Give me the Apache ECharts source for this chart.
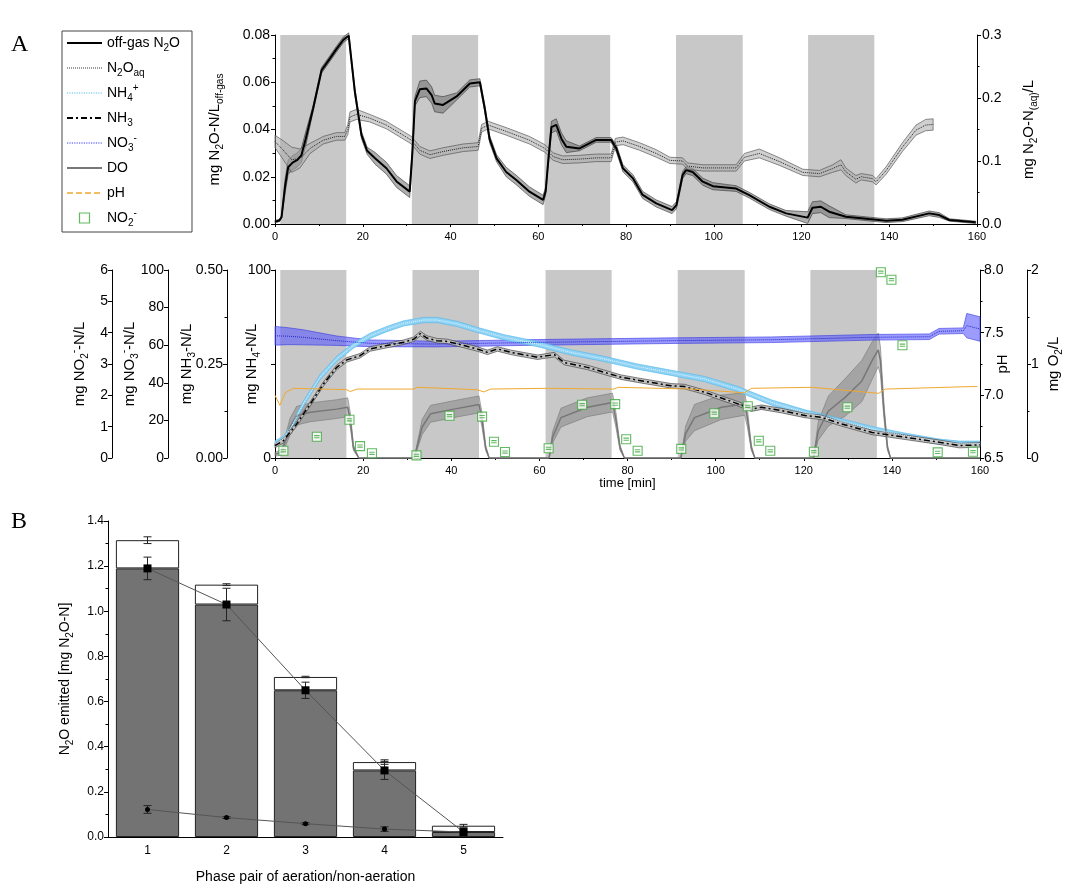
<!DOCTYPE html>
<html>
<head>
<meta charset="utf-8">
<script src="https://cdn.jsdelivr.net/npm/echarts@6/dist/echarts.min.js"></script>
<style>
html, body { margin: 0; padding: 0; background: #fff; }
#main { width: 1084px; height: 886px; }
</style>
</head>
<body>
<div id="main"></div>
<script>
// aeration phases (min)
var phaseStart = [1.2, 31.2, 61.4, 91.4, 121.5];
var phaseEnd = [16.2, 46.3, 76.4, 106.6, 136.6];

// top panel: off-gas N2O (left axis) and dissolved N2O (right axis)
var tOff = [0, 1, 1.5, 2.3, 3, 4, 5, 6, 7, 8.7, 10.6, 12.5, 14, 15.6, 16.8, 18.2, 19.7, 21, 22.8, 25.4, 27.7, 30.7, 31.3, 31.9, 33, 34.5, 35.7, 36.4, 38.3, 41.4, 44.4, 46.7, 47.8, 48.9, 50.5, 52.7, 55, 58, 61.1, 61.7, 62.2, 63, 64.1, 65.3, 66.4, 69.4, 73.2, 76.6, 77.8, 79.3, 81.6, 83.8, 86.9, 90.5, 91.5, 92.9, 93.7, 95.2, 97.5, 99.8, 105.1, 108.1, 112.7, 116.5, 121.4, 122.5, 124.4, 126.3, 130.1, 135.4, 139.3, 143, 149.1, 151.4, 153.7, 159.7];
var offgas = [0.001, 0.0015, 0.003, 0.016, 0.024, 0.026, 0.027, 0.029, 0.036, 0.049, 0.065, 0.070, 0.074, 0.078, 0.0797, 0.056, 0.0377, 0.031, 0.0278, 0.0236, 0.018, 0.0137, 0.030, 0.052, 0.057, 0.0574, 0.0546, 0.051, 0.0504, 0.054, 0.0595, 0.060, 0.049, 0.036, 0.0278, 0.022, 0.0186, 0.0137, 0.0102, 0.014, 0.025, 0.041, 0.042, 0.036, 0.0327, 0.032, 0.0356, 0.0356, 0.032, 0.0236, 0.0193, 0.0123, 0.0087, 0.0059, 0.008, 0.0207, 0.0228, 0.022, 0.0179, 0.016, 0.015, 0.0122, 0.0073, 0.0045, 0.0027, 0.0069, 0.0073, 0.0052, 0.0031, 0.0021, 0.0014, 0.0018, 0.0045, 0.0038, 0.0017, 0.0007];
var offgasSd = [0.0005, 0.0005, 0.0005, 0.003, 0.003, 0.003, 0.003, 0.003, 0.003, 0.0012, 0.0012, 0.0012, 0.0012, 0.0012, 0.0012, 0.0015, 0.0015, 0.0015, 0.0025, 0.0025, 0.0025, 0.0025, 0.002, 0.002, 0.0035, 0.0035, 0.0035, 0.0035, 0.0035, 0.0015, 0.0015, 0.0015, 0.0015, 0.0015, 0.0015, 0.002, 0.002, 0.002, 0.002, 0.0015, 0.0015, 0.0025, 0.0025, 0.0025, 0.0025, 0.001, 0.001, 0.001, 0.0015, 0.0015, 0.0015, 0.0015, 0.0015, 0.0015, 0.0015, 0.0015, 0.0015, 0.0015, 0.0015, 0.0015, 0.0012, 0.0012, 0.0012, 0.0012, 0.0025, 0.0025, 0.0025, 0.0025, 0.0008, 0.0008, 0.0008, 0.0008, 0.001, 0.001, 0.0005, 0.0005];

var tAq = [0, 1.9, 3.8, 5.7, 8, 11, 14, 15.9, 16.6, 17.1, 18.6, 21.6, 25.4, 29.2, 31.1, 33, 35.3, 38.3, 42.9, 46.3, 47.1, 48.6, 52.7, 58, 61.5, 63.4, 65.6, 69.4, 73.2, 76.6, 77.6, 79.3, 83.1, 86.9, 90, 92.9, 94, 97.5, 105.1, 107, 110.4, 115, 120.3, 124.1, 127.1, 129, 130.1, 132.4, 133.6, 136.2, 137, 139.3, 143, 146.1, 148.3, 150];
var n2oAq = [0.131, 0.117, 0.102, 0.104, 0.12, 0.133, 0.139, 0.139, 0.15, 0.17, 0.174, 0.168, 0.157, 0.141, 0.133, 0.117, 0.11, 0.115, 0.121, 0.123, 0.152, 0.157, 0.147, 0.133, 0.12, 0.107, 0.102, 0.103, 0.105, 0.105, 0.13, 0.132, 0.123, 0.112, 0.101, 0.1, 0.092, 0.089, 0.089, 0.106, 0.112, 0.099, 0.082, 0.08, 0.088, 0.094, 0.083, 0.071, 0.075, 0.072, 0.067, 0.085, 0.122, 0.149, 0.157, 0.158];
var n2oAqSd = [0.01, 0.015, 0.02, 0.015, 0.008, 0.006, 0.006, 0.006, 0.008, 0.008, 0.008, 0.006, 0.006, 0.006, 0.006, 0.006, 0.006, 0.006, 0.006, 0.006, 0.006, 0.006, 0.006, 0.006, 0.006, 0.006, 0.006, 0.006, 0.006, 0.006, 0.006, 0.006, 0.006, 0.006, 0.005, 0.005, 0.005, 0.005, 0.005, 0.006, 0.007, 0.006, 0.005, 0.005, 0.006, 0.008, 0.006, 0.006, 0.005, 0.005, 0.005, 0.006, 0.007, 0.008, 0.009, 0.009];

// bottom panel
var tNh4 = [0, 1.9, 3.4, 6.4, 10.2, 14, 17.8, 21.6, 25.4, 29.2, 33.8, 36.8, 41.4, 45.9, 52, 59.6, 67.1, 74.7, 82.3, 89.9, 97.5, 105.1, 112.7, 120.3, 127.9, 135.5, 143.1, 150.7, 155.3, 160];
var nh4 = [7.8, 10.1, 15.4, 28.7, 42.9, 52.7, 59.8, 65, 68.6, 71.6, 73.4, 73.4, 71.3, 68.1, 64.2, 60.6, 56.2, 52.7, 48.6, 45.3, 42, 36.6, 29.5, 24.2, 19.8, 15.4, 11.8, 8.7, 7.6, 7.6];
var nh4Sd = 1.4;

var tNh3 = [0, 1.9, 4.9, 8, 11, 14, 16.3, 19.3, 21.6, 25.4, 29.2, 31.5, 33, 34.5, 36.8, 39.1, 42.9, 45.9, 48.2, 50.5, 53.5, 59.6, 63.4, 65.6, 70.9, 74.7, 78.5, 82.3, 89.9, 92.9, 97.5, 105.1, 108.1, 110.4, 115, 120.3, 124.1, 127.9, 135.5, 143.1, 150.7, 155.3, 160];
var nh3 = [0.033, 0.046, 0.09, 0.144, 0.197, 0.241, 0.261, 0.272, 0.29, 0.299, 0.308, 0.316, 0.331, 0.319, 0.312, 0.31, 0.299, 0.29, 0.281, 0.29, 0.281, 0.268, 0.275, 0.254, 0.241, 0.228, 0.215, 0.207, 0.192, 0.19, 0.175, 0.144, 0.13, 0.135, 0.126, 0.113, 0.108, 0.093, 0.068, 0.055, 0.042, 0.033, 0.035];
var nh3Sd = 0.006;

var tNo3 = [0, 3, 6.4, 14, 21.6, 36.8, 59.6, 89.9, 112.7, 135.5, 148.5, 150.7, 156.2, 157, 160];
var no3 = [65, 64.8, 64.2, 62.4, 61, 60.6, 61.5, 62.4, 62.9, 64.2, 64.5, 67.4, 67.7, 70.4, 68.6];
var no3Sd = [5, 4.5, 4, 2.5, 1.8, 1.5, 1.5, 1.5, 1.5, 1.5, 1.5, 1.5, 1.5, 6.5, 6.5];

var tPh = [0, 1.1, 2.3, 4.2, 16.3, 17.1, 18.6, 31.5, 32.2, 45.9, 47.4, 48.9, 61.8, 77, 77.8, 94.5, 106.6, 108.1, 121.8, 137, 138.5, 158.2, 158.5, 159.4];
var ph = [7.0, 6.92, 7.02, 7.056, 7.045, 7.03, 7.05, 7.05, 7.064, 7.045, 7.027, 7.05, 7.056, 7.05, 7.064, 7.05, 7.02, 7.056, 7.064, 7.016, 7.05, 7.07, 7.085, 7.07];

var tDo = [0, 1.5, 2.5, 3.4, 4.9, 8, 14, 16.5, 17.1, 17.8, 19, 31.6, 32.2, 33.4, 35.3, 40.6, 46.3, 47, 47.8, 48.6, 62.2, 63, 64.9, 70.9, 76.6, 77.4, 78.3, 79.3, 92.1, 93.2, 95.2, 101.3, 106.6, 107.2, 108.1, 108.9, 122.2, 123.3, 125.6, 129.4, 133.2, 135.5, 136.9, 137.4, 138.2, 139, 139.7, 160];
var dO2 = [0.04, 0.06, 0.2, 0.33, 0.45, 0.486, 0.52, 0.54, 0.4, 0.11, 0, 0, 0.11, 0.33, 0.47, 0.52, 0.57, 0.4, 0.11, 0, 0, 0.22, 0.43, 0.54, 0.59, 0.4, 0.11, 0, 0, 0.26, 0.43, 0.54, 0.575, 0.43, 0.11, 0, 0, 0.29, 0.5, 0.645, 0.82, 1.035, 1.15, 1.035, 0.5, 0.11, 0, 0];
var dO2Sd = [0.02, 0.03, 0.06, 0.09, 0.1, 0.1, 0.1, 0.1, 0.08, 0.03, 0, 0, 0.03, 0.08, 0.09, 0.09, 0.09, 0.08, 0.03, 0, 0, 0.06, 0.1, 0.1, 0.1, 0.08, 0.03, 0, 0, 0.08, 0.14, 0.13, 0.12, 0.1, 0.03, 0, 0, 0.1, 0.16, 0.2, 0.22, 0.2, 0.18, 0.15, 0.08, 0.03, 0, 0];

var tNo2 = [1.9, 9.5, 16.9, 19.3, 22, 32.1, 39.6, 47, 49.7, 52.2, 62.1, 69.7, 77.2, 79.7, 82.3, 92.2, 99.7, 107.3, 109.8, 112.4, 122.3, 129.9, 137.5, 139.9, 142.4, 150.4, 158.4];
var no2 = [0.23, 0.68, 1.22, 0.38, 0.15, 0.085, 1.35, 1.32, 0.52, 0.19, 0.31, 1.70, 1.72, 0.6, 0.23, 0.29, 1.43, 1.65, 0.55, 0.23, 0.2, 1.62, 5.93, 5.69, 3.6, 0.18, 0.2];

// panel B
var pairs = ['1', '2', '3', '4', '5'];
var totalN2O = [1.315, 1.118, 0.709, 0.332, 0.050];
var totalErr = [0.015, 0.004, 0.003, 0.01, 0.006];
var aerN2O = [1.19, 1.03, 0.65, 0.295, 0.022];
var aerErr = [0.05, 0.072, 0.036, 0.04, 0.018];
var nonAerN2O = [0.122, 0.086, 0.059, 0.035, 0.022];
var nonAerErr = [0.017, 0.004, 0.004, 0.01, 0.005];

var FONT = 'Liberation Sans';
var dom = document.getElementById('main');
var myChart = echarts.init(dom);

function rich(fs) {
    var sub = Math.round(fs * 0.68);
    return {
        s: { fontSize: sub, lineHeight: sub, verticalAlign: 'bottom', fontFamily: FONT, color: '#000' },
        p: { fontSize: sub, lineHeight: sub, verticalAlign: 'top', fontFamily: FONT, color: '#000' }
    };
}

function nameStyle(fs) {
    return { fontSize: fs, lineHeight: fs + 6, fontFamily: FONT, color: '#000', rich: rich(fs) };
}

function yAxis(grid, o) {
    var ax = {
        type: 'value', gridIndex: grid,
        axisLine: { show: true, lineStyle: { color: '#000', width: 1 } },
        axisTick: { show: true, length: 4, lineStyle: { color: '#000' } },
        minorTick: { show: false, splitNumber: 2, length: 2.5, lineStyle: { color: '#000' } },
        splitLine: { show: false },
        axisLabel: { color: '#000', fontFamily: FONT, fontSize: 14, margin: 4 },
        nameLocation: 'middle', nameRotate: 90, nameMoveOverlap: false,
        nameTextStyle: nameStyle(15)
    };
    for (var k in o) ax[k] = o[k];
    return ax;
}

function xTime(grid, o) {
    var ax = {
        type: 'value', gridIndex: grid, min: 0, max: 160, interval: 20,
        axisLine: { lineStyle: { color: '#000' } },
        axisTick: { length: 3, lineStyle: { color: '#000' } },
        minorTick: { show: true, splitNumber: 2, length: 2, lineStyle: { color: '#000' } },
        splitLine: { show: false },
        axisLabel: { color: '#000', fontFamily: FONT, fontSize: 11, margin: 7 }
    };
    for (var k in o) ax[k] = o[k];
    return ax;
}

function band(name, ts, mid, sd, xi, yi, fill, stroke, z) {
    return {
        type: 'custom', name: name, xAxisIndex: xi, yAxisIndex: yi, z: z, silent: true,
        encode: { x: 0, y: [1, 2] },
        data: ts.map(function (t, i) {
            var s = Array.isArray(sd) ? sd[i] : sd;
            return [t, mid[i] - s, mid[i] + s];
        }),
        renderItem: function (params, api) {
            if (params.dataIndexInside !== 0) return;
            var up = [], lo = [];
            for (var i = 0; i < params.dataInsideLength; i++) {
                up.push(api.coord([api.value(0, i), api.value(2, i)]));
                lo.push(api.coord([api.value(0, i), api.value(1, i)]));
            }
            return {
                type: 'polygon',
                shape: { points: up.concat(lo.reverse()) },
                style: { fill: fill, stroke: stroke, lineWidth: 0.6 }
            };
        }
    };
}

function phases(xi, yi) {
    return {
        type: 'custom', name: 'aeration', xAxisIndex: xi, yAxisIndex: yi, z: 0, silent: true,
        encode: { x: [0, 1] },
        data: phaseStart.map(function (s, i) { return [s, phaseEnd[i]]; }),
        renderItem: function (params, api) {
            var a = api.coord([api.value(0), 0]);
            var b = api.coord([api.value(1), 0]);
            var cs = params.coordSys;
            return { type: 'rect', shape: { x: a[0], y: cs.y, width: b[0] - a[0], height: cs.height }, style: { fill: '#c8c8c8' } };
        }
    };
}

function pts(ts, vs) {
    return ts.map(function (t, i) { return [t, vs[i]]; });
}

function errBars(vals, errs, z) {
    return {
        type: 'custom', xAxisIndex: 2, yAxisIndex: 8, z: z, silent: true,
        encode: { x: 0, y: [1, 2] },
        data: vals.map(function (v, i) { return [i, v - errs[i], v + errs[i]]; }),
        renderItem: function (params, api) {
            var lo = api.coord([api.value(0), api.value(1)]);
            var hi = api.coord([api.value(0), api.value(2)]);
            var st = { stroke: '#222', lineWidth: 1 };
            return {
                type: 'group',
                children: [
                    { type: 'line', shape: { x1: lo[0], y1: lo[1], x2: hi[0], y2: hi[1] }, style: st },
                    { type: 'line', shape: { x1: lo[0] - 4, y1: lo[1], x2: lo[0] + 4, y2: lo[1] }, style: st },
                    { type: 'line', shape: { x1: hi[0] - 4, y1: hi[1], x2: hi[0] + 4, y2: hi[1] }, style: st }
                ]
            };
        }
    };
}

var legendNames = {
    offgas: 'off-gas N{s|2}O',
    n2oaq: 'N{s|2}O{s|aq}',
    nh4: 'NH{s|4}{p|+}',
    nh3: 'NH{s|3}',
    no3: 'NO{s|3}{p|-}',
    'do': 'DO',
    ph: 'pH',
    no2: 'NO{s|2}{p|-}'
};

var noSymbol = { color: 'transparent', borderColor: 'transparent', opacity: 0 };
// open square with the small error bar inside
var no2Symbol = 'path://M0,0L10,0L10,10L0,10Z M2,3.8L8,3.8 M2,6.2L8,6.2';

var option = {
    animation: false,
    backgroundColor: '#fff',
    textStyle: { fontFamily: FONT },
    graphic: [
        { type: 'text', left: 11, top: 33, style: { text: 'A', font: '24px "Liberation Serif"', fill: '#000' } },
        { type: 'text', left: 11, top: 510, style: { text: 'B', font: '24px "Liberation Serif"', fill: '#000' } }
    ],
    legend: {
        orient: 'vertical', left: 62, top: 31,
        itemWidth: 35, itemHeight: 10, itemGap: 5,
        padding: [2, 12, 4, 4],
        borderColor: '#444', borderWidth: 1,
        textStyle: { fontSize: 14, lineHeight: 20, fontFamily: FONT, color: '#000', rich: rich(14) },
        formatter: function (name) { return legendNames[name]; },
        data: [
            { name: 'offgas', itemStyle: noSymbol },
            { name: 'n2oaq', itemStyle: noSymbol, lineStyle: { color: '#333', type: 'dotted', width: 1 } },
            { name: 'nh4', itemStyle: noSymbol, lineStyle: { color: '#5bbcf0', type: 'dotted', width: 1.2 } },
            { name: 'nh3', itemStyle: noSymbol },
            { name: 'no3', itemStyle: noSymbol, lineStyle: { color: '#3a3aff', type: 'dotted', width: 1.2 } },
            { name: 'do', itemStyle: noSymbol },
            { name: 'ph', itemStyle: noSymbol, lineStyle: { color: '#f0a830', type: 'dashed', width: 1.5 } },
            { name: 'no2', icon: 'path://M0,0L10,0L10,10L0,10Z', itemStyle: { color: '#fff', borderColor: '#3aa83a', borderWidth: 1.2 } }
        ]
    },
    grid: [
        { left: 275, top: 35, width: 702, height: 189 },
        { left: 275, top: 270, width: 705, height: 188 },
        { left: 108, top: 521, width: 395, height: 316 }
    ],
    xAxis: [
        xTime(0, {}),
        xTime(1, {
            name: 'time [min]', nameLocation: 'middle', nameGap: 18,
            nameTextStyle: { fontSize: 13, fontFamily: FONT, color: '#000' }
        }),
        {
            type: 'category', gridIndex: 2, data: pairs,
            axisLine: { lineStyle: { color: '#000' } },
            axisTick: { alignWithLabel: true, length: 4, lineStyle: { color: '#000' } },
            axisLabel: { color: '#000', fontFamily: FONT, fontSize: 12, margin: 8 },
            name: 'Phase pair of aeration/non-aeration', nameLocation: 'middle', nameGap: 33,
            nameTextStyle: { fontSize: 14, fontFamily: FONT, color: '#000' }
        }
    ],
    yAxis: [
        yAxis(0, {
            min: 0, max: 0.08, interval: 0.02, position: 'left',
            minorTick: { show: true, splitNumber: 2, length: 2.5, lineStyle: { color: '#000' } },
            axisLabel: { color: '#000', fontFamily: FONT, fontSize: 14, margin: 5, formatter: function (v) { return v.toFixed(2); } },
            name: 'mg N{s|2}O-N/L{s|off-gas}', nameGap: 50
        }),
        yAxis(0, {
            min: 0, max: 0.3, interval: 0.1, position: 'right',
            minorTick: { show: true, splitNumber: 2, length: 2.5, lineStyle: { color: '#000' } },
            axisLabel: { color: '#000', fontFamily: FONT, fontSize: 14, margin: 5, formatter: function (v) { return v.toFixed(1); } },
            name: 'mg N{s|2}O-N{s|(aq)}/L', nameGap: 41
        }),
        yAxis(1, {
            min: 0, max: 100, interval: 50, position: 'left', offset: 0,
            axisLabel: { color: '#000', fontFamily: FONT, fontSize: 14, margin: 4, formatter: function (v) { return v === 50 ? '' : v; } },
            name: 'mg NH{s|4}-N/L', nameGap: 13
        }),
        yAxis(1, {
            min: 0, max: 0.5, interval: 0.25, position: 'left', offset: 48,
            minorTick: { show: true, splitNumber: 2, length: 2.5, lineStyle: { color: '#000' } },
            axisLabel: { color: '#000', fontFamily: FONT, fontSize: 14, margin: 4, formatter: function (v) { return v.toFixed(2); } },
            name: 'mg NH{s|3}-N/L', nameGap: 30
        }),
        yAxis(1, {
            min: 0, max: 100, interval: 20, position: 'left', offset: 107,
            name: 'mg NO{s|3}{p|-}-N/L', nameGap: 28
        }),
        yAxis(1, {
            min: 0, max: 6, interval: 1, position: 'left', offset: 163,
            name: 'mg NO{s|2}{p|-}-N/L', nameGap: 22
        }),
        yAxis(1, {
            min: 6.5, max: 8, interval: 0.5, position: 'right', offset: 0,
            minorTick: { show: true, splitNumber: 2, length: 2.5, lineStyle: { color: '#000' } },
            axisLabel: { color: '#000', fontFamily: FONT, fontSize: 14, margin: 4, formatter: function (v) { return v.toFixed(1); } },
            name: 'pH', nameGap: 12
        }),
        yAxis(1, {
            min: 0, max: 2, interval: 1, position: 'right', offset: 47,
            minorTick: { show: true, splitNumber: 2, length: 2.5, lineStyle: { color: '#000' } },
            name: 'mg O{s|2}/L', nameGap: 16
        }),
        yAxis(2, {
            min: 0, max: 1.4, interval: 0.2, position: 'left',
            minorTick: { show: true, splitNumber: 2, length: 2.5, lineStyle: { color: '#000' } },
            axisLabel: { color: '#000', fontFamily: FONT, fontSize: 12, margin: 4, formatter: function (v) { return v.toFixed(1); } },
            name: 'N{s|2}O emitted [mg N{s|2}O-N]', nameGap: 33,
            nameTextStyle: nameStyle(14)
        })
    ],
    series: [
        phases(0, 0),
        phases(1, 2),

        band('offgasBand', tOff, offgas, offgasSd, 0, 0, 'rgba(110,110,110,0.55)', '#333', 2),
        band('n2oaqBand', tAq, n2oAq, n2oAqSd, 0, 1, 'rgba(170,170,170,0.55)', '#444', 2),
        { name: 'offgas', type: 'line', xAxisIndex: 0, yAxisIndex: 0, z: 4, symbol: 'none', data: pts(tOff, offgas),
          lineStyle: { color: '#000', width: 2 }, itemStyle: { color: '#000' } },
        { name: 'n2oaq', type: 'line', xAxisIndex: 0, yAxisIndex: 1, z: 4, symbol: 'none', data: pts(tAq, n2oAq),
          lineStyle: { color: '#222', width: 1, type: 'dotted' }, itemStyle: { color: '#222' } },

        band('doBand', tDo, dO2, dO2Sd, 1, 7, 'rgba(120,120,120,0.45)', '#777', 2),
        band('no3Band', tNo3, no3, no3Sd, 1, 4, 'rgba(90,90,255,0.6)', '#3535e0', 3),
        band('nh4Band', tNh4, nh4, nh4Sd, 1, 2, '#8fd3f5', '#4fb3ea', 3),
        band('nh3Band', tNh3, nh3, nh3Sd, 1, 3, '#c0c0c0', '#333', 3),
        { name: 'do', type: 'line', xAxisIndex: 1, yAxisIndex: 7, z: 4, symbol: 'none', data: pts(tDo, dO2),
          lineStyle: { color: '#777', width: 1.5 }, itemStyle: { color: '#777' } },
        { name: 'no3', type: 'line', xAxisIndex: 1, yAxisIndex: 4, z: 4, symbol: 'none', data: pts(tNo3, no3),
          lineStyle: { color: '#2424c8', width: 1, type: 'dotted' }, itemStyle: { color: '#3a3aff' } },
        { name: 'nh4', type: 'line', xAxisIndex: 1, yAxisIndex: 2, z: 4, symbol: 'none', data: pts(tNh4, nh4),
          lineStyle: { color: '#e2f4fd', width: 1, type: 'dotted' }, itemStyle: { color: '#5bbcf0' } },
        { name: 'nh3', type: 'line', xAxisIndex: 1, yAxisIndex: 3, z: 4, symbol: 'none', data: pts(tNh3, nh3),
          lineStyle: { color: '#000', width: 1.5, type: [6, 3, 2, 3] }, itemStyle: { color: '#000' } },
        { name: 'ph', type: 'line', xAxisIndex: 1, yAxisIndex: 6, z: 4, symbol: 'none', data: pts(tPh, ph),
          lineStyle: { color: '#f0a830', width: 1 }, itemStyle: { color: '#f0a830' } },
        { name: 'no2', type: 'scatter', xAxisIndex: 1, yAxisIndex: 5, z: 5, symbol: no2Symbol, symbolSize: 9,
          data: pts(tNo2, no2),
          itemStyle: { color: '#fff', borderColor: '#3aa83a', borderWidth: 1.1 } },

        { name: 'aerated', type: 'bar', xAxisIndex: 2, yAxisIndex: 8, stack: 'n2o', barWidth: '80%', z: 2,
          data: aerN2O, itemStyle: { color: '#737373', borderColor: '#222', borderWidth: 1 } },
        { name: 'rest', type: 'bar', xAxisIndex: 2, yAxisIndex: 8, stack: 'n2o', barWidth: '80%', z: 2,
          data: totalN2O.map(function (v, i) { return v - aerN2O[i]; }),
          itemStyle: { color: '#fff', borderColor: '#222', borderWidth: 1 } },
        errBars(totalN2O, totalErr, 3),
        errBars(aerN2O, aerErr, 3),
        errBars(nonAerN2O, nonAerErr, 3),
        { name: 'aerLine', type: 'line', xAxisIndex: 2, yAxisIndex: 8, z: 4, data: aerN2O,
          symbol: 'rect', symbolSize: 8, lineStyle: { color: '#555', width: 1 }, itemStyle: { color: '#000' } },
        { name: 'nonAerLine', type: 'line', xAxisIndex: 2, yAxisIndex: 8, z: 4, data: nonAerN2O,
          symbol: 'circle', symbolSize: 5, lineStyle: { color: '#555', width: 1 }, itemStyle: { color: '#000' } }
    ]
};

if (option && typeof option === 'object') {
    myChart.setOption(option);
}
</script>
</body>
</html>
